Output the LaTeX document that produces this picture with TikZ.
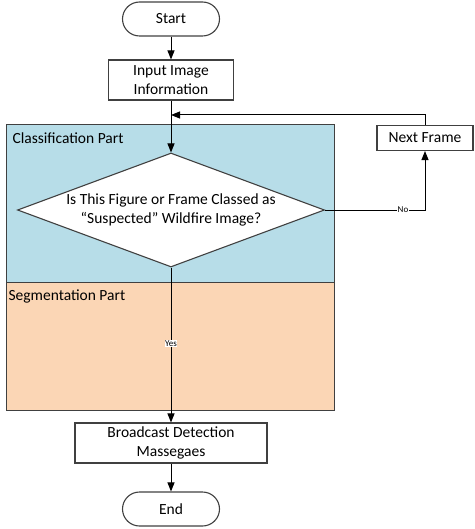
\documentclass[tikz,border=0pt]{standalone}
\usepackage{fontspec}
\setmainfont{Carlito}
\usetikzlibrary{arrows.meta, positioning, shapes.geometric, calc}

\definecolor{partblue}{RGB}{183,221,232}
\definecolor{partorange}{RGB}{251,214,181}
\definecolor{lineg}{RGB}{64,64,64}

\begin{document}
\begin{tikzpicture}[x=1pt, y=-1pt,
    every node/.style={font=\fontsize{15.5}{19}\selectfont},
    term/.style={draw=lineg, line width=1.1pt, rounded corners=17pt, minimum width=97pt, minimum height=34pt},
    proc/.style={draw=lineg, line width=1.1pt, fill=white, align=center, inner sep=2pt},
    decide/.style={draw=lineg, line width=1.1pt, fill=white, diamond, aspect=2.7, align=center, inner sep=0pt, minimum width=307pt, minimum height=114pt},
    part/.style={draw=lineg, line width=0.9pt},
    flow/.style={draw=black, line width=1pt, -{Triangle[length=9pt,width=7pt]}},
    lab/.style={fill=white, inner sep=0.5pt, font=\fontsize{9}{10}\selectfont}]
    \useasboundingbox (0,0) rectangle (474,529);

    % the two parts
    \draw[part, fill=partblue] (6,124) rectangle (334,282);
    \draw[part, fill=partorange] (6,282) rectangle (334,410);
    \node[anchor=west] (cls) at (9,138) {Classification Part};
    \node[anchor=west] (seg) at (5,296) {Segmentation Part};

    % flow nodes
    \node[term] (start) at (171,19) {Start};
    \node[proc, minimum width=125pt, minimum height=40pt] (input) at (171,80) {Input Image\\Information};
    \node[decide] (check) at (171,210) {Is This Figure or Frame Classed as\\``Suspected'' Wildfire Image?};
    \node[proc, minimum width=96pt, minimum height=25pt] (next) at (425,138) {Next Frame};
    \node[proc, minimum width=192pt, minimum height=40pt] (send) at (171,443) {Broadcast Detection\\Massegaes};
    \node[term] (end) at (171,509) {End};

    \coordinate (turn) at (425,210);
    \coordinate (join) at (171,115);

    % connectors
    \draw[flow] (start) -- (input);
    \draw[flow] (input) -- (check);
    \draw[flow] (check.east) -- (turn) node[lab, pos=0.78] {No} -- (next);
    \draw[flow] (next.north) |- (join);
    \draw[flow] (check) -- (send) node[lab, pos=0.49] {Yes};
    \draw[flow] (send) -- (end);
\end{tikzpicture}
\end{document}
